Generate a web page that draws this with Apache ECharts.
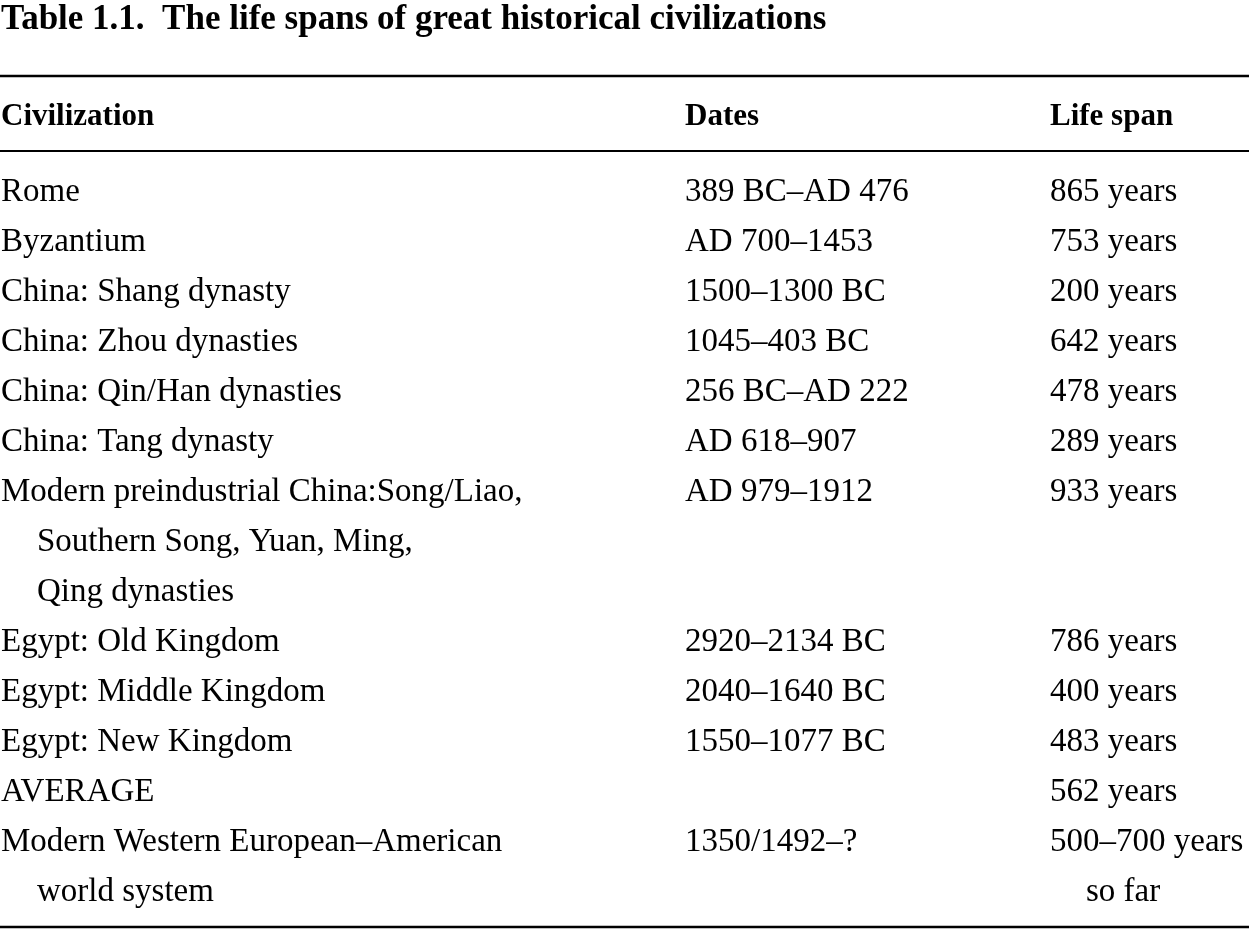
<!DOCTYPE html>
<html><head><meta charset="utf-8">
<script src="https://cdn.jsdelivr.net/npm/echarts@6/dist/echarts.min.js"></script>
<style>html,body{margin:0;padding:0;background:#fff}#c{width:1249px;height:929px}</style>
</head><body><div id="c"></div>
<script>
var titleText = "Table 1.1.  The life spans of great historical civilizations";
var headers = ["Civilization", "Dates", "Life span"];
var civilizations = [
  ["Rome"],
  ["Byzantium"],
  ["China: Shang dynasty"],
  ["China: Zhou dynasties"],
  ["China: Qin/Han dynasties"],
  ["China: Tang dynasty"],
  ["Modern preindustrial China:Song/Liao,", "Southern Song, Yuan, Ming,", "Qing dynasties"],
  ["Egypt: Old Kingdom"],
  ["Egypt: Middle Kingdom"],
  ["Egypt: New Kingdom"],
  ["AVERAGE"],
  ["Modern Western European\u2013American", "world system"]
];
var dates = [
  ["389 BC\u2013AD 476"],
  ["AD 700\u20131453"],
  ["1500\u20131300 BC"],
  ["1045\u2013403 BC"],
  ["256 BC\u2013AD 222"],
  ["AD 618\u2013907"],
  ["AD 979\u20131912"],
  ["2920\u20132134 BC"],
  ["2040\u20131640 BC"],
  ["1550\u20131077 BC"],
  [],
  ["1350/1492\u2013?"]
];
var lifeSpans = [
  ["865 years"],
  ["753 years"],
  ["200 years"],
  ["642 years"],
  ["478 years"],
  ["289 years"],
  ["933 years"],
  ["786 years"],
  ["400 years"],
  ["483 years"],
  ["562 years"],
  ["500\u2013700 years", "so far"]
];

var FONT = '"Liberation Serif", "Times New Roman", serif';
var colX = [1, 685, 1050];
var indent = 36;

// build one entry per text line: [column, lineIndex, subLine, text]
var cells = [];
var lineIdx = 0;
for (var r = 0; r < civilizations.length; r++) {
  var cols = [civilizations[r], dates[r], lifeSpans[r]];
  var h = 1;
  for (var c = 0; c < 3; c++) {
    for (var k = 0; k < cols[c].length; k++) {
      cells.push([c, lineIdx + k, k, cols[c][k]]);
    }
    h = Math.max(h, cols[c].length);
  }
  lineIdx += h;
}
var nLines = lineIdx;
var lineCats = [];
for (var i = 0; i < nLines; i++) lineCats.push(String(i));

var chart = echarts.init(document.getElementById('c'), null, {renderer: 'canvas'});
chart.setOption({
  animation: false,
  backgroundColor: '#fff',
  title: {
    text: titleText, left: -4, top: -3,
    textStyle: {fontFamily: FONT, fontWeight: 'bold', fontSize: 35, color: '#000'}
  },
  grid: {left: 0, right: 0, top: 167, bottom: 12, containLabel: false},
  xAxis: {type: 'value', min: 0, max: 1249, show: false},
  yAxis: {type: 'category', data: lineCats, inverse: true, show: false},
  graphic: [
    {type: 'line', shape: {x1: 0, y1: 76, x2: 1249, y2: 76}, style: {stroke: '#000', lineWidth: 2.5}},
    {type: 'line', shape: {x1: 0, y1: 151, x2: 1249, y2: 151}, style: {stroke: '#000', lineWidth: 2}},
    {type: 'line', shape: {x1: 0, y1: 927, x2: 1249, y2: 927}, style: {stroke: '#000', lineWidth: 2.5}},
    {type: 'text', x: colX[0], y: 117, style: {text: headers[0], font: 'bold 31px ' + FONT, fill: '#000', textVerticalAlign: 'middle'}},
    {type: 'text', x: colX[1], y: 117, style: {text: headers[1], font: 'bold 31px ' + FONT, fill: '#000', textVerticalAlign: 'middle'}},
    {type: 'text', x: colX[2], y: 117, style: {text: headers[2], font: 'bold 31px ' + FONT, fill: '#000', textVerticalAlign: 'middle'}}
  ],
  series: [{
    type: 'custom',
    coordinateSystem: 'cartesian2d',
    data: cells,
    encode: {x: 0, y: 1},
    renderItem: function (params, api) {
      var col = api.value(0);
      var line = api.value(1);
      var sub = api.value(2);
      var p = api.coord([0, line]);
      var x = colX[col] + (sub > 0 ? indent : 0);
      return {
        type: 'text',
        x: x, y: p[1],
        style: {
          text: cells[params.dataIndex][3],
          font: '33px ' + FONT,
          fill: '#000',
          textAlign: 'left',
          textVerticalAlign: 'middle'
        }
      };
    }
  }]
});
</script></body></html>
